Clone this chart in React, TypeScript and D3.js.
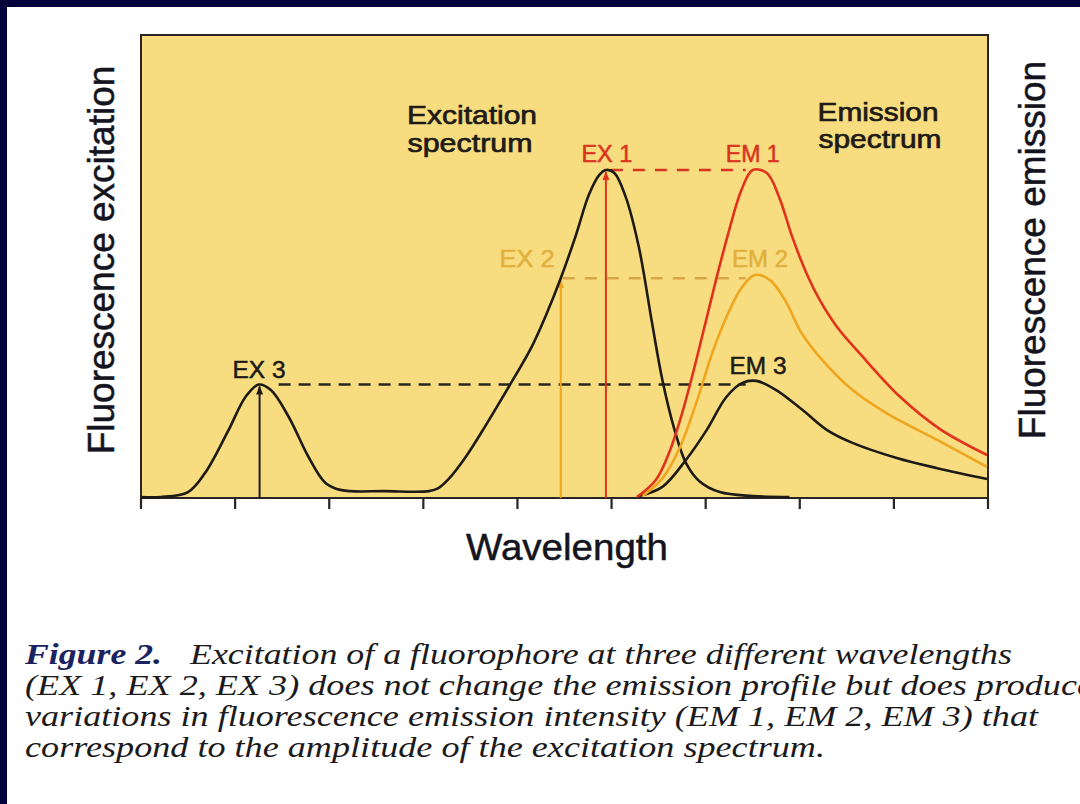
import * as d3 from "d3";

// excitation spectrum of the fluorophore: [wavelength (tick units), intensity %]
const excitationSpectrum: [number, number][] = [
  [0, 0.3], [0.21, 0.3], [0.5, 1.8], [0.68, 7.6], [0.93, 20.7], [1.11, 30.8],
  [1.25, 34.6], [1.38, 32.9], [1.57, 24.7], [1.78, 12.5], [1.96, 4.6],
  [2.13, 2.4], [2.6, 2.1], [3.06, 2.1], [3.16, 3.0], [3.27, 5.8], [3.45, 12.5],
  [3.66, 22], [3.91, 34], [4.15, 46], [4.3, 55.5], [4.46, 67],
  [4.62, 80], [4.76, 92.5], [4.87, 98.5], [4.94, 100], [5.03, 99.1],
  [5.15, 91.8], [5.29, 76.5], [5.43, 53.4], [5.54, 36.0], [5.67, 20.7],
  [5.79, 10.7], [5.93, 5.2], [6.15, 1.8], [6.5, 0.6], [6.89, 0.3],
];

// emission spectra for the three excitation wavelengths
const emission1: [number, number][] = [
  [5.27, 0.3], [5.47, 5.5], [5.61, 13.7], [5.75, 25.9], [5.9, 42],
  [6.11, 66.5], [6.25, 81.7], [6.38, 93.9], [6.5, 100],
  [6.65, 99.1], [6.78, 91.8], [6.92, 79.6], [7.07, 68.6], [7.21, 60.5],
  [7.4, 52], [7.64, 44], [8.06, 31], [8.49, 21], [8.99, 13.1],
];
const emission2: [number, number][] = [
  [5.33, 0.6], [5.54, 6], [5.72, 15], [5.9, 29], [6.08, 45],
  [6.25, 57], [6.38, 64], [6.52, 68], [6.68, 66.5], [6.85, 60],
  [7.0, 51.2], [7.21, 43.0], [7.56, 32.9], [7.92, 25.9], [8.46, 17.7],
  [8.99, 9.5],
];
const emission3: [number, number][] = [
  [5.29, 0.6], [5.54, 3.4], [5.79, 11.6], [6.01, 20.7], [6.22, 30.8],
  [6.39, 35.1], [6.54, 35.7], [6.75, 32.9], [7.03, 26.8], [7.29, 20.7],
  [7.56, 16.8], [8.03, 12.2], [8.46, 9.1], [8.99, 5.8],
];

const exLabels = ["EX 1", "EX 2", "EX 3"];
const emLabels = ["EM 1", "EM 2", "EM 3"];
const exWavelengths = [4.94, 4.46, 1.26];
const peakLevels = [100, 67, 34.6];
const emPeakWavelength = 6.5;

const captionLines = [
  "Excitation of a fluorophore at three different wavelengths",
  "(EX 1, EX 2, EX 3) does not change the emission profile but does produce",
  "variations in fluorescence emission intensity (EM 1, EM 2, EM 3) that",
  "correspond to the amplitude of the excitation spectrum.",
];

const width = 1080;
const height = 804;
const marginLeft = 141;
const marginRight = 988;
const plotTop = 35;
const plotBottom = 498;

const lineColors = ["#e0321c", "#efa51e", "#1e1a16"];
const textColors = ["#d9341f", "#e2b03c", "#1e1a16"];
const dashColors = ["#d9341f", "#d9a746", "#2a2520"];
const dashGap = [5, 2, 19];
const sans = "'Liberation Sans', Arial, sans-serif";
const serif = "'Liberation Serif', 'Times New Roman', serif";

const App = () => {
  const x = d3.scaleLinear([0, 9], [marginLeft, marginRight]);
  const y = d3.scaleLinear([0, 100], [plotBottom, 170]);
  const line = d3
    .line<[number, number]>()
    .x((d) => x(d[0]))
    .y((d) => y(d[1]))
    .curve(d3.curveCatmullRom.alpha(0.5));

  const emissions = [emission1, emission2, emission3];

  const peakLabel = (
    label: string,
    px: number,
    py: number,
    len: number,
    color: string
  ) => (
    <text
      x={px}
      y={py}
      fill={color}
      stroke={color}
      strokeWidth={0.5}
      textLength={len}
      lengthAdjust="spacingAndGlyphs"
    >
      {label}
    </text>
  );

  return (
    <svg
      width={width}
      height={height}
      style={{ position: "absolute", left: 0, top: 0, display: "block" }}
    >
      <defs>
        {lineColors.map((c, i) => (
          <marker
            key={i}
            id={`arrow${i}`}
            viewBox="0 0 10 8"
            refX={9}
            refY={4}
            markerWidth={10}
            markerHeight={7}
            markerUnits="userSpaceOnUse"
            orient="auto"
          >
            <path d="M0,0 L10,4 L0,8 z" fill={c} />
          </marker>
        ))}
      </defs>
      <rect width={width} height={height} fill="#ffffff" />
      <rect width={width} height={7} fill="#03033b" />
      <rect width={7} height={height} fill="#03033b" />

      {/* plot panel */}
      <rect
        x={marginLeft}
        y={plotTop}
        width={marginRight - marginLeft}
        height={plotBottom - plotTop}
        fill="#f7dd80"
      />
      <path
        d={`M${marginLeft},${plotBottom} V${plotTop} H${marginRight} V${plotBottom}`}
        fill="none"
        stroke="#2a2520"
        strokeWidth={2}
      />
      <line
        x1={marginLeft}
        x2={marginRight}
        y1={plotBottom}
        y2={plotBottom}
        stroke="#2a2520"
        strokeWidth={2.2}
      />
      <g stroke="#2a2520" strokeWidth={2.2}>
        {x.ticks(10).map((t) => (
          <line key={t} x1={x(t)} x2={x(t)} y1={plotBottom} y2={plotBottom + 11} />
        ))}
      </g>

      {/* dashed level lines */}
      {peakLevels.map((lv, i) => (
        <line
          key={i}
          x1={x(exWavelengths[i]) + dashGap[i]}
          x2={x(emPeakWavelength) - 7}
          y1={y(lv)}
          y2={y(lv)}
          stroke={dashColors[i]}
          strokeWidth={2.4}
          strokeDasharray={i === 2 ? "12,8" : "12,10"}
        />
      ))}

      {/* excitation arrows */}
      {exWavelengths.map((wl, i) => (
        <line
          key={i}
          x1={x(wl)}
          x2={x(wl)}
          y1={plotBottom}
          y2={y(peakLevels[i]) + 2}
          stroke={lineColors[i]}
          strokeWidth={2}
          markerEnd={`url(#arrow${i})`}
        />
      ))}

      {/* spectra */}
      <g fill="none" strokeWidth={2.6} strokeLinejoin="round">
        <path d={line(excitationSpectrum)!} stroke="#1e1a16" />
        {emissions
          .map((em, i) => ({ em, i }))
          .reverse()
          .map(({ em, i }) => (
            <path key={i} d={line(em)!} stroke={lineColors[i]} />
          ))}
      </g>

      {/* peak labels */}
      <g fontFamily={sans} fontSize={23} textAnchor="middle">
        {peakLabel(exLabels[0], x(exWavelengths[0]) + 1, 162, 51, textColors[0])}
        {peakLabel(emLabels[0], x(emPeakWavelength), 162, 54, textColors[0])}
        {peakLabel(exLabels[1], 527, 267, 55, textColors[1])}
        {peakLabel(emLabels[1], 760, 267, 56, textColors[1])}
        {peakLabel(exLabels[2], 259, 378, 53, textColors[2])}
        {peakLabel(emLabels[2], 758, 374, 57, textColors[2])}
      </g>

      {/* spectrum titles */}
      <g
        fontFamily={sans}
        fontSize={26}
        fill="#1e1a16"
        stroke="#1e1a16"
        strokeWidth={0.7}
        textAnchor="middle"
      >
        <text x={472} y={124} textLength={130} lengthAdjust="spacingAndGlyphs">
          Excitation
        </text>
        <text x={470} y={152} textLength={125} lengthAdjust="spacingAndGlyphs">
          spectrum
        </text>
        <text x={878} y={121} textLength={121} lengthAdjust="spacingAndGlyphs">
          Emission
        </text>
        <text x={880} y={148} textLength={123} lengthAdjust="spacingAndGlyphs">
          spectrum
        </text>
      </g>

      {/* axis titles */}
      <g
        fontFamily={sans}
        fontSize={37}
        fill="#141420"
        stroke="#141420"
        strokeWidth={0.5}
        textAnchor="middle"
      >
        <text x={567} y={560} textLength={202} lengthAdjust="spacingAndGlyphs">
          Wavelength
        </text>
        <text transform="translate(114,260) rotate(-90)">Fluorescence excitation</text>
        <text transform="translate(1045,250) rotate(-90)">Fluorescence emission</text>
      </g>

      {/* caption */}
      <g fontFamily={serif} fontSize={30} fontStyle="italic" fill="#1c1a1a">
        <text
          x={25}
          y={664}
          fill="#1b2260"
          fontWeight="bold"
          textLength={137}
          lengthAdjust="spacingAndGlyphs"
        >
          Figure 2.
        </text>
        <text x={190} y={664} textLength={822} lengthAdjust="spacingAndGlyphs">
          {captionLines[0]}
        </text>
        <text x={25} y={695} textLength={1068} lengthAdjust="spacingAndGlyphs">
          {captionLines[1]}
        </text>
        <text x={25} y={726} textLength={1013} lengthAdjust="spacingAndGlyphs">
          {captionLines[2]}
        </text>
        <text x={25} y={757} textLength={800} lengthAdjust="spacingAndGlyphs">
          {captionLines[3]}
        </text>
      </g>
    </svg>
  );
};

export default App;
